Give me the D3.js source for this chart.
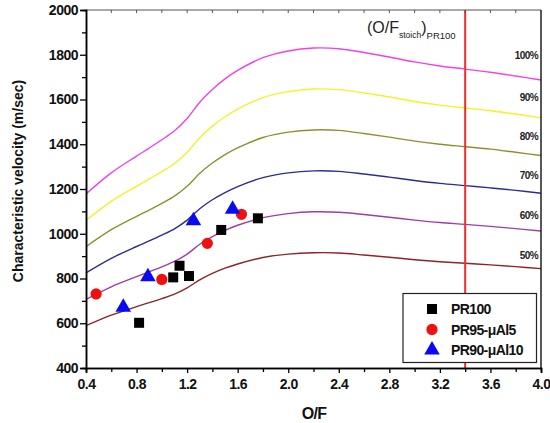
<!DOCTYPE html>
<html><head><meta charset="utf-8">
<script src="https://cdn.jsdelivr.net/npm/d3@7"></script>
<style>body{margin:0;background:#fff}svg{display:block}text{font-family:"Liberation Sans",Arial,sans-serif}</style>
</head><body>
<script>
// ---- data ----
const ofValues = [0.4,0.6,0.8,0.9,1.0,1.1,1.2,1.3,1.4,1.5,1.6,1.8,2.0,2.2,2.4,2.6,2.8,3.0,3.2,3.4,3.6,3.8,4.0];
const cstar100 = [1178,1272,1347,1383,1420,1460,1515,1588,1645,1692,1730,1787,1817,1830,1827,1810,1790,1768,1750,1736,1722,1705,1687];
const cstar90  = [1060,1145,1212,1245,1278,1314,1364,1429,1481,1523,1557,1608,1635,1647,1644,1629,1611,1591,1575,1562,1550,1535,1518];
const cstar80  = [942,1018,1078,1106,1136,1168,1212,1270,1316,1354,1384,1430,1454,1464,1462,1448,1432,1414,1400,1389,1378,1364,1350];
const cstar70  = [825,890,943,968,994,1022,1061,1112,1152,1184,1211,1251,1272,1281,1279,1267,1253,1238,1225,1215,1205,1194,1181];
const cstar60  = [707,763,808,830,852,876,909,953,987,1015,1038,1072,1090,1098,1096,1086,1074,1061,1050,1042,1033,1023,1012];
const cstar50  = [589,636,674,692,710,730,758,794,823,846,865,894,909,915,914,905,895,884,875,868,861,853,844];
const efficiencyLabels = ["100%","90%","80%","70%","60%","50%"];

const pr100OF = [0.82,1.09,1.14,1.215,1.47,1.76];
const pr100C  = [602,805,857,811,1017,1069];
const pr95OF  = [0.48,1.0,1.36,1.63];
const pr95C   = [731,796,957,1087];
const pr90OF  = [0.695,0.89,1.25,1.56];
const pr90C   = [672,808,1058,1109];
const seriesNames = ["PR100","PR95-\u03BCAl5","PR90-\u03BCAl10"];

const stoichOF = 3.4;
const xTicks = [0.4,0.8,1.2,1.6,2.0,2.4,2.8,3.2,3.6,4.0];
const yTicks = [400,600,800,1000,1200,1400,1600,1800,2000];

// ---- drawing ----
const W=550,H=423;
const svg=d3.select("body").append("svg").attr("width",W).attr("height",H);
const x=d3.scaleLinear().domain([0.4,4.0]).range([86,541]);
const y=d3.scaleLinear().domain([400,2000]).range([368,10]);

const curves=[cstar100,cstar90,cstar80,cstar70,cstar60,cstar50];
const colors=["#f040f0","#f2f22a","#8f8f2e","#2c2c98","#a43aa8","#8e2424"];
const line=d3.line().x(d=>x(d[0])).y(d=>y(d[1])).curve(d3.curveCatmullRom.alpha(0.5));
curves.forEach((c,i)=>{
  svg.append("path").datum(ofValues.map((o,j)=>[o,c[j]]))
    .attr("d",line).attr("fill","none").attr("stroke",colors[i]).attr("stroke-width",1.4);
});

// stoich line
svg.append("line").attr("x1",x(stoichOF)).attr("x2",x(stoichOF)).attr("y1",y(2000)).attr("y2",y(400))
  .attr("stroke","#f52a2a").attr("stroke-width",2);

// frame top/right
svg.append("line").attr("x1",x(0.4)).attr("x2",x(4.0)).attr("y1",y(2000)).attr("y2",y(2000)).attr("stroke","#555").attr("stroke-width",1.2);
svg.append("line").attr("x1",x(4.0)).attr("x2",x(4.0)).attr("y1",y(2000)).attr("y2",y(400)).attr("stroke","#111").attr("stroke-width",1.4);
// top minor ticks
d3.range(0.6,4.0,0.2).forEach(v=>{
  svg.append("line").attr("x1",x(v)).attr("x2",x(v)).attr("y1",y(2000)).attr("y2",y(2000)+3).attr("stroke","#555").attr("stroke-width",1);
});

// axes
const xAxis=svg.append("g").attr("transform",`translate(0,${y(400)})`)
  .call(d3.axisBottom(x).tickValues(xTicks).tickFormat(d3.format(".1f")).tickSize(5).tickPadding(6));
const xMinor=svg.append("g").attr("transform",`translate(0,${y(400)})`)
  .call(d3.axisBottom(x).tickValues(d3.range(0.6,4.0,0.4)).tickFormat("").tickSize(4));
const yAxis=svg.append("g").attr("transform",`translate(${x(0.4)},0)`)
  .call(d3.axisLeft(y).tickValues(yTicks).tickFormat(d3.format("d")).tickSize(6).tickPadding(2));
const yMinor=svg.append("g").attr("transform",`translate(${x(0.4)},0)`)
  .call(d3.axisLeft(y).tickValues(d3.range(500,2000,200)).tickFormat("").tickSize(4));
[xAxis,xMinor,yAxis,yMinor].forEach(g=>{
  g.select(".domain").attr("stroke","#000").attr("stroke-width",1.5);
  g.selectAll(".tick line").attr("stroke","#000").attr("stroke-width",1.3);
  g.selectAll("text").attr("font-size",14).attr("font-weight","bold").attr("fill","#111")
   .attr("letter-spacing","-0.5px").style("font-family","'Liberation Sans',Arial,sans-serif");
});

// efficiency labels
const labelY=[55,97,136,175,215,255];
efficiencyLabels.forEach((t,i)=>{
  svg.append("text").attr("x",538).attr("y",labelY[i]).attr("dy","0.35em").attr("text-anchor","end")
    .attr("font-size",10).attr("font-weight","bold").attr("letter-spacing","-0.6px").attr("fill","#222").text(t);
});

// stoich label
const st=svg.append("text").attr("x",367).attr("y",33).attr("fill","#222");
st.append("tspan").attr("font-size",16).text("(O/F");
st.append("tspan").attr("font-size",8.5).attr("dy",5).text("stoich");
st.append("tspan").attr("font-size",16).attr("dy",-5).text(")");
st.append("tspan").attr("font-size",9.5).attr("dy",6).text("PR100");

// markers
const sq=d3.symbol().type(d3.symbolSquare).size(100);
const ci=d3.symbol().type(d3.symbolCircle).size(100);
const tr=d3.symbol().type(d3.symbolTriangle).size(105);
pr100OF.forEach((o,i)=>svg.append("path").attr("d",sq).attr("transform",`translate(${x(o)},${y(pr100C[i])})`).attr("fill","#000"));
pr95OF.forEach((o,i)=>svg.append("path").attr("d",ci).attr("transform",`translate(${x(o)},${y(pr95C[i])})`).attr("fill","#f01010"));
pr90OF.forEach((o,i)=>svg.append("path").attr("d",tr).attr("transform",`translate(${x(o)},${y(pr90C[i])})`).attr("fill","#0a0af0"));

// legend
const lg=svg.append("g");
lg.append("rect").attr("x",403).attr("y",293.5).attr("width",133.5).attr("height",69).attr("fill","#fff").attr("stroke","#222").attr("stroke-width",1.2);
const syms=[sq,ci,tr], fills=["#000","#f01010","#0a0af0"], ly=[309,329.5,350];
seriesNames.forEach((n,i)=>{
  lg.append("path").attr("d",syms[i]).attr("transform",`translate(432,${ly[i]})`).attr("fill",fills[i]);
  lg.append("text").attr("x",451).attr("y",ly[i]).attr("dy","0.36em").attr("font-size",14).attr("font-weight","bold")
    .attr("letter-spacing","-0.6px").attr("fill","#111").text(n);
});

// axis titles
svg.append("text").attr("x",314).attr("y",419).attr("text-anchor","middle").attr("font-size",16).attr("font-weight","bold")
  .attr("letter-spacing","-0.8px").attr("fill","#111").text("O/F");
svg.append("text").attr("transform","translate(23,181) rotate(-90)").attr("text-anchor","middle").attr("font-size",14)
  .attr("font-weight","bold").attr("fill","#111").text("Characteristic velocity (m/sec)");
</script>
</body></html>
